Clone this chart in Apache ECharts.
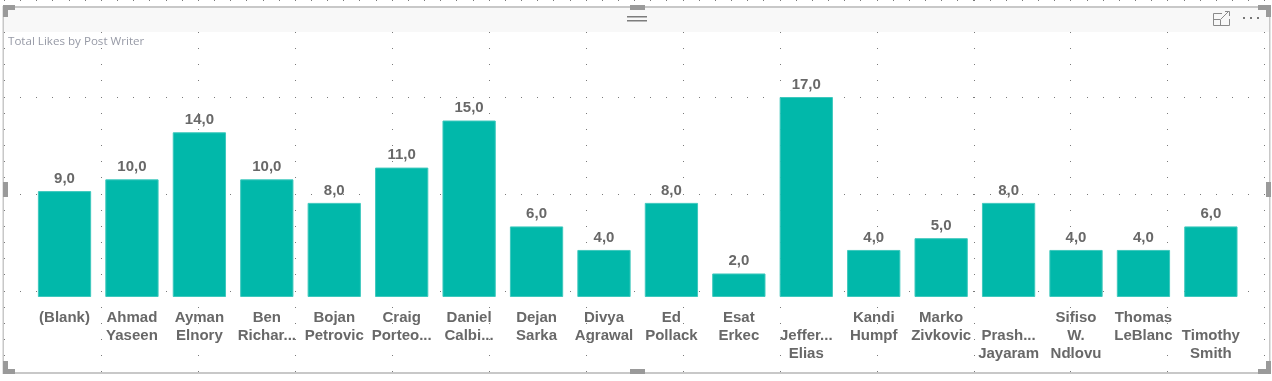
<!DOCTYPE html>
<html>
<head>
<meta charset="utf-8">
<script src="https://cdn.jsdelivr.net/npm/echarts@6/dist/echarts.min.js"></script>
<style>
  html, body { margin: 0; padding: 0; background: #ffffff; }
  #chart { width: 1272px; height: 381px; }
</style>
</head>
<body>
<div id="chart"></div>
<script>
// ---- data ----
var titleText = "Total Likes by Post Writer";
var categories = [
  "(Blank)", "Ahmad\nYaseen", "Ayman\nElnory", "Ben\nRichar...", "Bojan\nPetrovic",
  "Craig\nPorteo...", "Daniel\nCalbi...", "Dejan\nSarka", "Divya\nAgrawal", "Ed\nPollack",
  "Esat\nErkec", "\nJeffer...\nElias", "Kandi\nHumpf", "Marko\nZivkovic", "\nPrash...\nJayaram",
  "Sifiso\nW.\nNdlovu", "Thomas\nLeBlanc", "\nTimothy\nSmith"
];
var likes = [9, 10, 14, 10, 8, 11, 15, 6, 4, 8, 2, 17, 4, 5, 8, 4, 4, 6];

// ---- decoration (Power BI canvas) ----
var W = 1272, H = 381;
var g = [];
var step = 96.95, sub = step / 6;
var dot = '#7a7a7a';
// snap-grid dots
for (var r = 0; r < 4; r++) {
  var yy = Math.round(-0.3 + r * step);
  for (var x = 4; x < W; x += sub) {
    g.push({type: 'rect', z: 0, silent: true, shape: {x: Math.round(x), y: yy, width: 1, height: 1}, style: {fill: dot}});
  }
}
for (var c = 0; c < 14; c++) {
  var xx = Math.round(4 + c * step);
  for (var y = -0.3; y < H; y += sub) {
    g.push({type: 'rect', z: 0, silent: true, shape: {x: xx, y: Math.round(y), width: 1, height: 1}, style: {fill: dot}});
  }
}
var frame = '#c8c8c8', handle = '#9a9a9a';
// header band
g.push({type: 'rect', z: 50, silent: true, shape: {x: 3, y: 8, width: 1267, height: 24}, style: {fill: '#f8f8f8'}});
// border lines
g.push({type: 'rect', z: 51, silent: true, shape: {x: 3, y: 6, width: 1268, height: 2}, style: {fill: frame}});
g.push({type: 'rect', z: 51, silent: true, shape: {x: 3, y: 372, width: 1268, height: 2}, style: {fill: frame}});
g.push({type: 'rect', z: 51, silent: true, shape: {x: 2.5, y: 6, width: 1.5, height: 368}, style: {fill: frame}});
g.push({type: 'rect', z: 51, silent: true, shape: {x: 1269, y: 6, width: 1.5, height: 368}, style: {fill: frame}});
// handles
function hr(x, y, w, h) { g.push({type: 'rect', z: 52, silent: true, shape: {x: x, y: y, width: w, height: h}, style: {fill: handle}}); }
hr(3, 5, 12, 5); hr(3, 5, 5, 12);
hr(1258, 5, 13, 5); hr(1266, 5, 5, 12);
hr(3, 369, 12, 5); hr(3, 361, 5, 13);
hr(1258, 369, 13, 5); hr(1266, 361, 5, 13);
hr(630, 5, 15, 5); hr(630, 369, 15, 5);
hr(3, 182, 5, 15); hr(1266, 182, 5, 15);
// move grip icon
g.push({type: 'rect', z: 53, silent: true, shape: {x: 627, y: 16, width: 20, height: 1.5}, style: {fill: '#7d7d7d'}});
g.push({type: 'rect', z: 53, silent: true, shape: {x: 627, y: 20, width: 20, height: 1.5}, style: {fill: '#7d7d7d'}});
// focus icon
g.push({type: 'polyline', z: 53, silent: true, shape: {points: [[1222, 13.5], [1213.5, 13.5], [1213.5, 25.5], [1229.5, 25.5], [1229.5, 19]]}, style: {stroke: '#8a8a8a', lineWidth: 1, fill: null}});
g.push({type: 'polyline', z: 53, silent: true, shape: {points: [[1213.5, 19.5], [1220.5, 19.5], [1220.5, 25.5]]}, style: {stroke: '#8a8a8a', lineWidth: 1, fill: null}});
g.push({type: 'line', z: 53, silent: true, shape: {x1: 1221, y1: 19, x2: 1229, y2: 11}, style: {stroke: '#8a8a8a', lineWidth: 1}});
g.push({type: 'polyline', z: 53, silent: true, shape: {points: [[1225, 11.5], [1229.5, 11.5], [1229.5, 16]]}, style: {stroke: '#8a8a8a', lineWidth: 1, fill: null}});
// ellipsis
[1243, 1250, 1257].forEach(function (x) {
  g.push({type: 'rect', z: 53, silent: true, shape: {x: x, y: 17, width: 2, height: 2}, style: {fill: '#777'}});
});

var chart = echarts.init(document.getElementById('chart'), null, {renderer: 'canvas'});
chart.setOption({
  animation: false,
  backgroundColor: '#ffffff',
  title: {
    text: titleText,
    left: 8, top: 35.5, padding: 0,
    textStyle: {fontFamily: 'Open Sans', fontSize: 11.6, fontWeight: 'normal', color: '#979aa6'}
  },
  graphic: g,
  grid: {left: 30.8, right: 27.4, top: 97, bottom: 84, containLabel: false},
  xAxis: {
    type: 'category',
    data: categories,
    axisLine: {show: false},
    axisTick: {show: false},
    splitLine: {show: false},
    axisLabel: {
      interval: 0, margin: 12, lineHeight: 18,
      fontFamily: 'Liberation Sans, Arial, sans-serif', fontSize: 15, fontWeight: 'bold', color: '#686868'
    }
  },
  yAxis: {type: 'value', min: 0, max: 17, show: false, splitLine: {show: false}},
  series: [{
    type: 'bar',
    data: likes,
    barCategoryGap: '21%',
    itemStyle: {color: '#01B8AA', borderColor: '#3ec8bd', borderWidth: 1},
    label: {
      show: true, position: 'top', distance: 5,
      fontFamily: 'Liberation Sans, Arial, sans-serif', fontSize: 15, fontWeight: 'bold', color: '#686868',
      formatter: function (p) { return p.value.toFixed(1).replace('.', ','); }
    }
  }]
});
</script>
</body>
</html>
